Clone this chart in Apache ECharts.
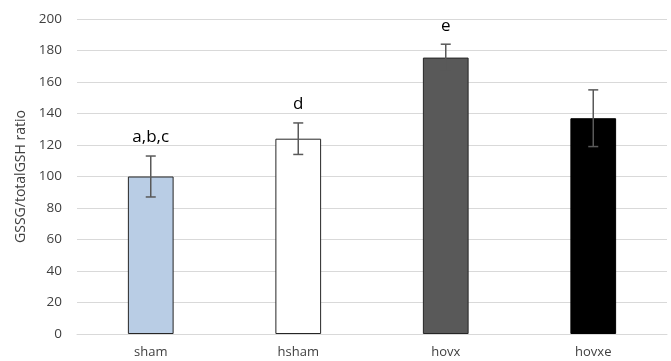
<!DOCTYPE html>
<html>
<head>
<meta charset="utf-8">
<script src="https://cdn.jsdelivr.net/npm/echarts@6/dist/echarts.min.js"></script>
<style>
  html, body { margin: 0; padding: 0; background: #fff; }
  #chart { width: 671px; height: 361px; }
</style>
</head>
<body>
<div id="chart"></div>
<script>
// Group means, standard errors and significance letters
const categories = ['sham', 'hsham', 'hovx', 'hovxe'];
const means = [100, 124, 175.5, 137];
const errors = [13, 10, 8.5, 18];
const sigLabels = ['a,b,c', 'd', 'e', ''];
const barColors = ['#b9cde5', '#ffffff', '#595959', '#000000'];
const borderColors = ['#262626', '#262626', '#262626', '#000000'];
const yTicks = { min: 0, max: 200, interval: 20 };

const FONT = '"Open Sans", "Noto Sans", sans-serif';

const chart = echarts.init(document.getElementById('chart'));

const barData = means.map((v, i) => ({
  value: v,
  itemStyle: { color: barColors[i], borderColor: borderColors[i], borderWidth: 1 }
}));

const errData = means.map((v, i) => [i, v - errors[i], v + errors[i], sigLabels[i]]);

chart.setOption({
  animation: false,
  grid: { left: 77, right: 4, top: 19, bottom: 27, containLabel: false },
  xAxis: {
    type: 'category',
    data: categories,
    axisLine: { lineStyle: { color: '#d9d9d9', width: 1 } },
    axisTick: { show: false },
    axisLabel: { color: '#404040', fontFamily: FONT, fontSize: 13, margin: 12 }
  },
  yAxis: {
    type: 'value',
    min: yTicks.min,
    max: yTicks.max,
    interval: yTicks.interval,
    name: 'GSSG/totalGSH ratio',
    nameLocation: 'middle',
    nameGap: 48,
    nameTextStyle: { color: '#404040', fontFamily: FONT, fontSize: 14 },
    axisLine: { show: false },
    axisTick: { show: false },
    axisLabel: { color: '#404040', fontFamily: FONT, fontSize: 13.5, margin: 15 },
    splitLine: { lineStyle: { color: '#d9d9d9', width: 1 } }
  },
  series: [
    {
      type: 'bar',
      data: barData,
      barWidth: '31%'
    },
    {
      type: 'custom',
      data: errData,
      z: 10,
      renderItem: function (params, api) {
        const x = api.value(0);
        const lo = api.coord([x, api.value(1)]);
        const hi = api.coord([x, api.value(2)]);
        const cap = 5;
        const style = { stroke: '#595959', lineWidth: 1.5 };
        const children = [
          { type: 'line', shape: { x1: hi[0], y1: hi[1], x2: lo[0], y2: lo[1] }, style: style },
          { type: 'line', shape: { x1: hi[0] - cap, y1: hi[1], x2: hi[0] + cap, y2: hi[1] }, style: style },
          { type: 'line', shape: { x1: lo[0] - cap, y1: lo[1], x2: lo[0] + cap, y2: lo[1] }, style: style }
        ];
        const txt = api.value(3);
        if (txt) {
          children.push({
            type: 'text',
            style: {
              text: txt,
              x: hi[0],
              y: hi[1] - 10,
              align: 'center',
              verticalAlign: 'bottom',
              fill: '#000000',
              font: '17px ' + FONT
            }
          });
        }
        return { type: 'group', children: children };
      }
    }
  ]
});
</script>
</body>
</html>
